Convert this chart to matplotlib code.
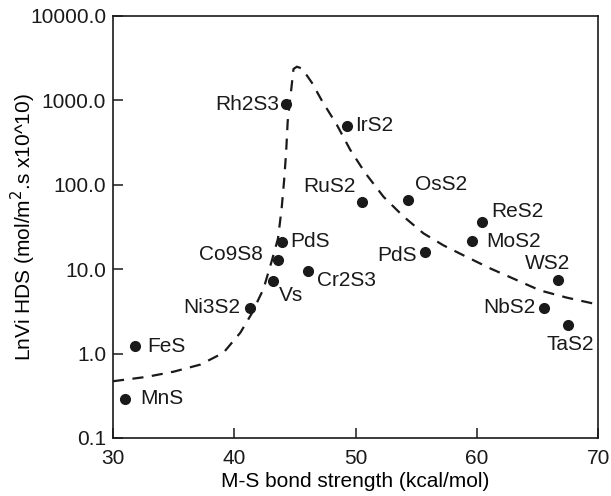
import numpy as np
import matplotlib as mpl, matplotlib.pyplot as plt
from matplotlib.ticker import FixedLocator, FuncFormatter

INK = "#1a1a1a"
mpl.rcParams.update({"font.family": ["Liberation Sans", "DejaVu Sans"], "font.size": 15,
                     "text.color": INK, "axes.edgecolor": INK, "xtick.color": INK, "ytick.color": INK})

# ---- data ----
names = ["Rh2S3", "IrS2", "RuS2", "OsS2", "ReS2", "MoS2", "PdS", "WS2", "NbS2", "TaS2",
         "Cr2S3", "PdS", "Co9S8", "Vs", "Ni3S2", "FeS", "MnS"]
bond = [44.3, 49.3, 50.5, 54.3, 60.4, 59.6, 55.7, 66.7, 65.5, 67.5,
        46.1, 43.9, 43.6, 43.2, 41.3, 31.8, 31.0]
rate = [900, 500, 63, 66, 36, 21.5, 15.8, 7.4, 3.5, 2.2,
        9.5, 21, 12.8, 7.3, 3.5, 1.22, 0.29]

# dashed guide curve (volcano)
curve_x = [30.0, 32.8, 35.0, 37.2, 39.1, 40.5, 41.4, 42.4, 43.1, 43.6, 43.9, 44.1, 44.27, 44.4,
           44.88, 45.16, 45.5, 45.98, 46.39, 47.22, 48.46, 49.55, 50.79, 52.3, 53.95, 55.6,
           57.25, 59.18, 61.1, 63.3, 65.2, 67.4, 70.0]
curve_y = [0.47, 0.53, 0.61, 0.74, 1.02, 1.77, 2.92, 5.8, 12.7, 23, 52, 110, 240, 560,
           2350, 2500, 2400, 1970, 1620, 990, 510, 260, 138, 72, 42, 26.5,
           19.1, 13.9, 10.2, 7.4, 5.6, 4.6, 3.8]

# label offsets in points (dx, dy, ha)
offs = [(-5, 0, "right"), (6, 0, "left"), (-4, 11, "right"), (5, 11, "left"), (7, 8, "left"),
        (10, 0, "left"), (-6, -2, "right"), (-8, 12, "center"), (-6, 0, "right"), (2, -14, "center"),
        (6, -7, "left"), (6, 0, "left"), (-11, 4, "right"), (4, -11, "left"), (-7, 0, "right"),
        (9, 0, "left"), (11, 0, "left")]

fig = plt.figure(figsize=(6.11, 4.96), dpi=100)
ax = fig.add_axes([0.185, 0.117, 0.794, 0.851])
ax.plot(curve_x, curve_y, color=INK, lw=1.6, ls=(0, (5, 3.8)), zorder=2)
ax.plot(bond, rate, "o", color=INK, ms=7, zorder=3)
for n, x, y, (dx, dy, ha) in zip(names, bond, rate, offs):
    ax.annotate(n, (x, y), xytext=(dx, dy), textcoords="offset points", ha=ha, va="center")

ax.set_yscale("log")
ax.set_xlim(30, 70); ax.set_ylim(0.1, 10000)
ax.xaxis.set_major_locator(FixedLocator([30, 40, 50, 60, 70]))
ax.yaxis.set_major_locator(FixedLocator([0.1, 1, 10, 100, 1000, 10000]))
ax.yaxis.set_minor_locator(FixedLocator([]))
ax.yaxis.set_major_formatter(FuncFormatter(lambda v, _: f"{v:.1f}"))
ax.tick_params(direction="in", length=7, width=1.1)
ax.tick_params(axis="y", pad=5)
ax.tick_params(axis="x", pad=8)
for s in ax.spines.values(): s.set_linewidth(1.2)
ax.set_xlabel("M-S bond strength (kcal/mol)", labelpad=3)
ax.set_ylabel("LnVi HDS (mol/m$^2$.s x10^10)")
ax.yaxis.set_label_coords(-0.155, 0.5)
fig.savefig("out.png", dpi=100)
